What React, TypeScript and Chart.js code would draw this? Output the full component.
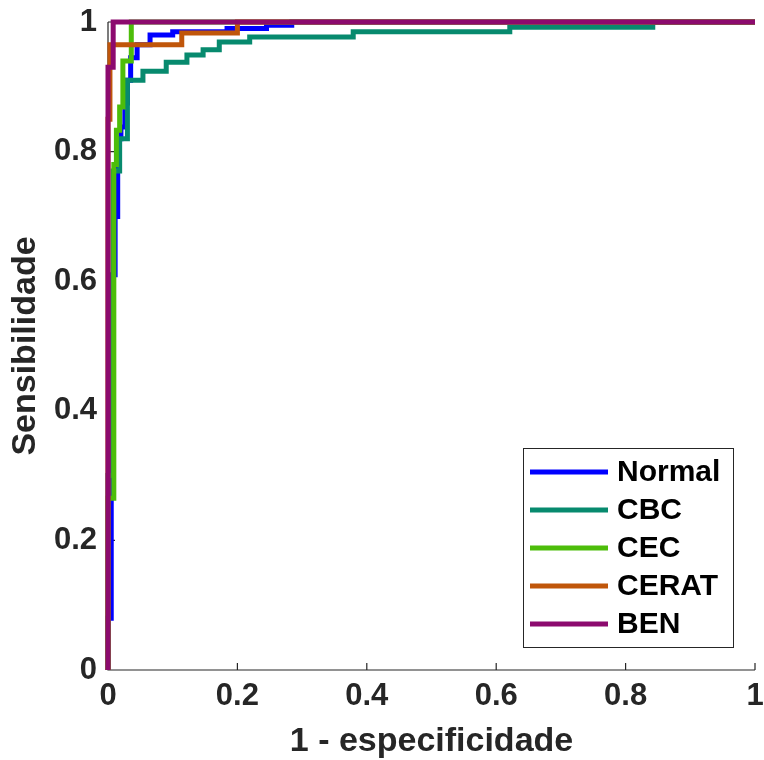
import React, { useEffect, useRef } from "react";
import { Chart, registerables } from "chart.js";

Chart.register(...registerables);

const seriesNames = ["Normal", "CBC", "CEC", "CERAT", "BEN"];
const seriesColors = ["#0000ff", "#078a6e", "#4dbd0a", "#c0560a", "#8c0a6e"];

const normalFpr = [0, 0, 0.005, 0.005, 0.011, 0.011, 0.015, 0.015, 0.02, 0.02, 0.026, 0.026, 0.03, 0.03, 0.035, 0.035, 0.045, 0.045, 0.065, 0.065, 0.1, 0.1, 0.184, 0.184, 0.245, 0.245, 0.284, 0.284, 1];
const normalTpr = [0, 0.08, 0.08, 0.61, 0.61, 0.7, 0.7, 0.82, 0.82, 0.838, 0.838, 0.875, 0.875, 0.91, 0.91, 0.945, 0.945, 0.965, 0.965, 0.98, 0.98, 0.985, 0.985, 0.99, 0.99, 0.995, 0.995, 1, 1];

const cbcFpr = [0, 0, 0.008, 0.008, 0.018, 0.018, 0.03, 0.03, 0.054, 0.054, 0.09, 0.09, 0.122, 0.122, 0.147, 0.147, 0.172, 0.172, 0.219, 0.219, 0.379, 0.379, 0.621, 0.621, 0.842, 0.842, 1];
const cbcTpr = [0, 0.3, 0.3, 0.77, 0.77, 0.82, 0.82, 0.91, 0.91, 0.924, 0.924, 0.938, 0.938, 0.949, 0.949, 0.957, 0.957, 0.969, 0.969, 0.977, 0.977, 0.985, 0.985, 0.992, 0.992, 1, 1];

const cecFpr = [0, 0, 0.009, 0.009, 0.013, 0.013, 0.018, 0.018, 0.023, 0.023, 0.036, 0.036, 1];
const cecTpr = [0, 0.265, 0.265, 0.78, 0.78, 0.833, 0.833, 0.869, 0.869, 0.94, 0.94, 1, 1];

const ceratFpr = [0, 0, 0.003, 0.003, 0.114, 0.114, 0.2, 0.2, 1];
const ceratTpr = [0, 0.85, 0.85, 0.965, 0.965, 0.983, 0.983, 1, 1];

const benFpr = [0, 0, 0.008, 0.008, 1];
const benTpr = [0, 0.93, 0.93, 1, 1];

const axisTicks = [0, 0.2, 0.4, 0.6, 0.8, 1];

const xTitle = "1 - especificidade";
const yTitle = "Sensibilidade";

const FONT = "'Liberation Sans', Arial, Helvetica, sans-serif";
const AXIS_COLOR = "#262626";

function toPoints(xs: number[], ys: number[]) {
  return xs.map((x, i) => ({ x, y: ys[i] }));
}

const axesPlugin = {
  id: "matlabAxes",
  beforeDatasetsDraw(chart: any) {
    const { ctx, chartArea, scales } = chart;
    const xs = scales.x;
    const ys = scales.y;
    ctx.save();
    ctx.strokeStyle = AXIS_COLOR;
    ctx.lineWidth = 1.2;
    ctx.beginPath();
    ctx.moveTo(chartArea.left, chartArea.top);
    ctx.lineTo(chartArea.left, chartArea.bottom);
    ctx.lineTo(chartArea.right, chartArea.bottom);
    const tl = 7;
    axisTicks.forEach((v) => {
      const px = xs.getPixelForValue(v);
      ctx.moveTo(px, chartArea.bottom);
      ctx.lineTo(px, chartArea.bottom - tl);
      const py = ys.getPixelForValue(v);
      ctx.moveTo(chartArea.left, py);
      ctx.lineTo(chartArea.left + tl, py);
    });
    ctx.stroke();
    ctx.restore();
  },
};

const legendPlugin = {
  id: "boxLegend",
  afterDraw(chart: any) {
    const { ctx, chartArea } = chart;
    const boxW = 210;
    const boxH = 199;
    const right = chartArea.right - 22;
    const bottom = chartArea.bottom - 23;
    const left = right - boxW;
    const top = bottom - boxH;
    ctx.save();
    ctx.fillStyle = "#ffffff";
    ctx.fillRect(left, top, boxW, boxH);
    ctx.strokeStyle = AXIS_COLOR;
    ctx.lineWidth = 1;
    ctx.strokeRect(left + 0.5, top + 0.5, boxW, boxH);
    const rowH = 38;
    const firstY = top + 24;
    chart.data.datasets.forEach((ds: any, i: number) => {
      const y = firstY + i * rowH;
      ctx.strokeStyle = ds.borderColor;
      ctx.lineWidth = 5;
      ctx.beginPath();
      ctx.moveTo(left + 7, y);
      ctx.lineTo(left + 85, y);
      ctx.stroke();
      ctx.fillStyle = "#000000";
      ctx.font = `bold 30px ${FONT}`;
      ctx.textBaseline = "middle";
      ctx.textAlign = "left";
      ctx.fillText(ds.label, left + 94, y + 1);
    });
    ctx.restore();
  },
};

function zeroPad(s: any) {
  s.paddingTop = 0;
  s.paddingBottom = 0;
  s.paddingLeft = 0;
  s.paddingRight = 0;
}

export default function App() {
  const canvasRef = useRef<HTMLCanvasElement | null>(null);

  useEffect(() => {
    document.body.style.margin = "0";
    const canvas = canvasRef.current;
    if (!canvas) return;
    const xsList = [normalFpr, cbcFpr, cecFpr, ceratFpr, benFpr];
    const ysList = [normalTpr, cbcTpr, cecTpr, ceratTpr, benTpr];
    const datasets = seriesNames.map((name, i) => ({
      label: name,
      data: toPoints(xsList[i], ysList[i]),
      borderColor: seriesColors[i],
      backgroundColor: seriesColors[i],
      borderWidth: 5,
      pointRadius: 0,
      fill: false,
      tension: 0,
      clip: false as any,
      order: seriesNames.length - 1 - i,
      borderJoinStyle: "miter" as const,
      borderCapStyle: "butt" as const,
    }));

    const chart = new Chart(canvas, {
      type: "line",
      data: { datasets },
      options: {
        animation: false,
        responsive: false,
        maintainAspectRatio: false,
        layout: { padding: { top: 22, right: 9, left: 0, bottom: 0 } },
        plugins: {
          legend: { display: false },
          tooltip: { enabled: false },
        },
        scales: {
          x: {
            type: "linear",
            min: 0,
            max: 1,
            afterFit: (s: any) => {
              s.height = 90;
              zeroPad(s);
            },
            afterBuildTicks: (s: any) => {
              s.ticks = axisTicks.map((v) => ({ value: v }));
            },
            grid: { display: false, drawTicks: false },
            border: { display: false },
            ticks: {
              padding: 8,
              color: AXIS_COLOR,
              font: { family: FONT, size: 31, weight: "bold", lineHeight: 1.2 },
              callback: (v: any) => String(Number(Number(v).toFixed(1))),
              maxRotation: 0,
            },
            title: {
              display: true,
              text: xTitle,
              color: AXIS_COLOR,
              font: { family: FONT, size: 34, weight: "bold", lineHeight: 1.1 },
              padding: { top: 0, bottom: 0 },
            },
          },
          y: {
            type: "linear",
            min: 0,
            max: 1,
            afterFit: (s: any) => {
              s.width = 108;
              zeroPad(s);
            },
            afterBuildTicks: (s: any) => {
              s.ticks = axisTicks.map((v) => ({ value: v }));
            },
            grid: { display: false, drawTicks: false },
            border: { display: false },
            ticks: {
              padding: 11,
              color: AXIS_COLOR,
              font: { family: FONT, size: 31, weight: "bold", lineHeight: 1.2 },
              callback: (v: any) => String(Number(Number(v).toFixed(1))),
            },
            title: {
              display: true,
              text: yTitle,
              color: AXIS_COLOR,
              font: { family: FONT, size: 34, weight: "bold", lineHeight: 1.1 },
              padding: { top: 7, bottom: 0 },
            },
          },
        },
      },
      plugins: [axesPlugin, legendPlugin],
    });
    return () => chart.destroy();
  }, []);

  return (
    <div style={{ width: 764, height: 760, background: "#ffffff" }}>
      <canvas ref={canvasRef} width={764} height={760} style={{ display: "block" }} />
    </div>
  );
}
